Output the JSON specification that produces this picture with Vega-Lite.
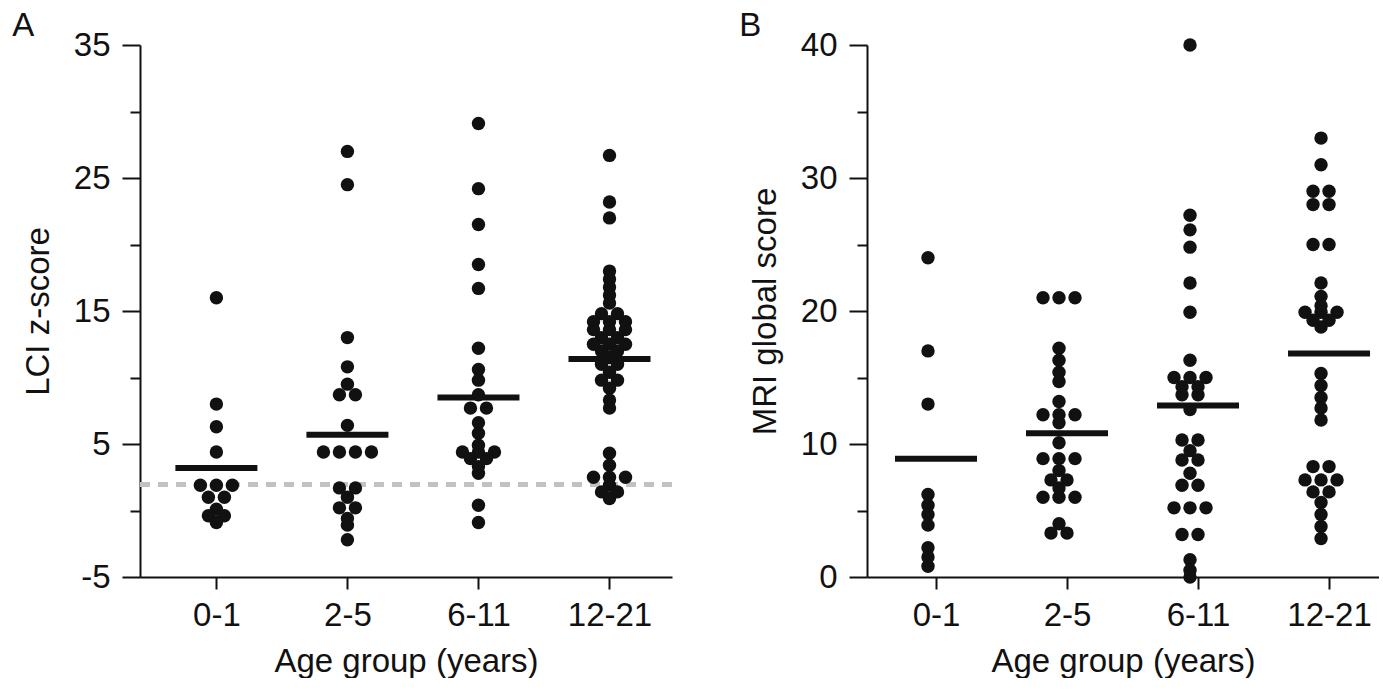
{
  "$schema": "https://vega.github.io/schema/vega-lite/v6.json",
  "background": "white",
  "padding": {"left": 12, "top": 10, "right": 0, "bottom": 0},
  "spacing": 64,
  "config": {
    "view": {"stroke": null},
    "font": "Liberation Sans",
    "axis": {
      "domainColor": "#111", "domainWidth": 2, "tickColor": "#111", "tickWidth": 2,
      "labelFont": "Liberation Sans", "labelFontSize": 33, "labelColor": "#111",
      "titleFont": "Liberation Sans", "titleFontSize": 33, "titleFontWeight": "normal", "titleColor": "#111",
      "grid": false, "labelOverlap": false
    },
    "title": {"font": "Liberation Sans", "fontSize": 33, "fontWeight": "normal", "color": "#111", "anchor": "start", "frame": "bounds", "offset": -14, "dx": -10}
  },
  "datasets": {
    "lci": [
      {"g": "0-1", "v": 16}, {"g": "0-1", "v": 8}, {"g": "0-1", "v": 6.3}, {"g": "0-1", "v": 4.4},
      {"g": "0-1", "v": 1.9}, {"g": "0-1", "v": 1.9}, {"g": "0-1", "v": 1.9}, {"g": "0-1", "v": 1.0}, {"g": "0-1", "v": 1.0},
      {"g": "0-1", "v": 0.1}, {"g": "0-1", "v": -0.4}, {"g": "0-1", "v": -0.4}, {"g": "0-1", "v": -0.9},
      {"g": "2-5", "v": 27.0}, {"g": "2-5", "v": 24.5}, {"g": "2-5", "v": 13.0}, {"g": "2-5", "v": 10.8}, {"g": "2-5", "v": 9.5},
      {"g": "2-5", "v": 8.7}, {"g": "2-5", "v": 8.7}, {"g": "2-5", "v": 6.4},
      {"g": "2-5", "v": 4.4}, {"g": "2-5", "v": 4.4}, {"g": "2-5", "v": 4.4}, {"g": "2-5", "v": 4.4},
      {"g": "2-5", "v": 1.7}, {"g": "2-5", "v": 1.7}, {"g": "2-5", "v": 1.0}, {"g": "2-5", "v": 0.2}, {"g": "2-5", "v": 0.2},
      {"g": "2-5", "v": -0.6}, {"g": "2-5", "v": -1.1}, {"g": "2-5", "v": -2.2},
      {"g": "6-11", "v": 29.1}, {"g": "6-11", "v": 24.2}, {"g": "6-11", "v": 21.5}, {"g": "6-11", "v": 18.5}, {"g": "6-11", "v": 16.7},
      {"g": "6-11", "v": 12.2}, {"g": "6-11", "v": 10.6}, {"g": "6-11", "v": 9.8}, {"g": "6-11", "v": 8.7},
      {"g": "6-11", "v": 7.7}, {"g": "6-11", "v": 7.7}, {"g": "6-11", "v": 6.6}, {"g": "6-11", "v": 5.8}, {"g": "6-11", "v": 4.9},
      {"g": "6-11", "v": 4.4}, {"g": "6-11", "v": 4.4}, {"g": "6-11", "v": 4.4}, {"g": "6-11", "v": 3.9}, {"g": "6-11", "v": 3.9},
      {"g": "6-11", "v": 3.3}, {"g": "6-11", "v": 2.8}, {"g": "6-11", "v": 0.4}, {"g": "6-11", "v": -0.9},
      {"g": "12-21", "v": 26.7}, {"g": "12-21", "v": 23.2}, {"g": "12-21", "v": 22.0}, {"g": "12-21", "v": 18.0}, {"g": "12-21", "v": 17.4},
      {"g": "12-21", "v": 16.8}, {"g": "12-21", "v": 16.2}, {"g": "12-21", "v": 15.6}, {"g": "12-21", "v": 14.8}, {"g": "12-21", "v": 14.8},
      {"g": "12-21", "v": 14.2}, {"g": "12-21", "v": 14.2}, {"g": "12-21", "v": 14.2}, {"g": "12-21", "v": 13.6}, {"g": "12-21", "v": 13.6},
      {"g": "12-21", "v": 13.6}, {"g": "12-21", "v": 13.0}, {"g": "12-21", "v": 13.0}, {"g": "12-21", "v": 12.5}, {"g": "12-21", "v": 12.5},
      {"g": "12-21", "v": 12.5}, {"g": "12-21", "v": 12.0}, {"g": "12-21", "v": 12.0}, {"g": "12-21", "v": 11.5}, {"g": "12-21", "v": 11.0},
      {"g": "12-21", "v": 11.0}, {"g": "12-21", "v": 10.4}, {"g": "12-21", "v": 9.8}, {"g": "12-21", "v": 9.8}, {"g": "12-21", "v": 9.2},
      {"g": "12-21", "v": 8.3}, {"g": "12-21", "v": 7.7}, {"g": "12-21", "v": 4.3}, {"g": "12-21", "v": 3.4}, {"g": "12-21", "v": 2.5},
      {"g": "12-21", "v": 2.5}, {"g": "12-21", "v": 2.5}, {"g": "12-21", "v": 1.9}, {"g": "12-21", "v": 1.4}, {"g": "12-21", "v": 1.4},
      {"g": "12-21", "v": 0.9}
    ],
    "lciMean": [
      {"g": "0-1", "m": 3.2}, {"g": "2-5", "m": 5.7}, {"g": "6-11", "m": 8.5}, {"g": "12-21", "m": 11.4}
    ],
    "mri": [
      {"g": "0-1", "v": 24}, {"g": "0-1", "v": 17}, {"g": "0-1", "v": 13}, {"g": "0-1", "v": 6.2}, {"g": "0-1", "v": 5.4},
      {"g": "0-1", "v": 4.7}, {"g": "0-1", "v": 3.9}, {"g": "0-1", "v": 2.2}, {"g": "0-1", "v": 1.5}, {"g": "0-1", "v": 0.8},
      {"g": "2-5", "v": 21}, {"g": "2-5", "v": 21}, {"g": "2-5", "v": 21}, {"g": "2-5", "v": 17.2}, {"g": "2-5", "v": 16.3},
      {"g": "2-5", "v": 15.4}, {"g": "2-5", "v": 14.7}, {"g": "2-5", "v": 13.2}, {"g": "2-5", "v": 12.2}, {"g": "2-5", "v": 12.2},
      {"g": "2-5", "v": 12.2}, {"g": "2-5", "v": 11.6}, {"g": "2-5", "v": 10.1}, {"g": "2-5", "v": 8.9}, {"g": "2-5", "v": 8.9},
      {"g": "2-5", "v": 8.9}, {"g": "2-5", "v": 8.0}, {"g": "2-5", "v": 7.3}, {"g": "2-5", "v": 7.3}, {"g": "2-5", "v": 6.7},
      {"g": "2-5", "v": 6.0}, {"g": "2-5", "v": 6.0}, {"g": "2-5", "v": 6.0}, {"g": "2-5", "v": 4.0}, {"g": "2-5", "v": 3.3},
      {"g": "2-5", "v": 3.3},
      {"g": "6-11", "v": 40}, {"g": "6-11", "v": 27.2}, {"g": "6-11", "v": 26.1}, {"g": "6-11", "v": 24.8}, {"g": "6-11", "v": 22.1},
      {"g": "6-11", "v": 19.9}, {"g": "6-11", "v": 16.3}, {"g": "6-11", "v": 15.0}, {"g": "6-11", "v": 15.0}, {"g": "6-11", "v": 15.0},
      {"g": "6-11", "v": 14.3}, {"g": "6-11", "v": 14.3}, {"g": "6-11", "v": 13.7}, {"g": "6-11", "v": 13.7}, {"g": "6-11", "v": 12.6},
      {"g": "6-11", "v": 10.3}, {"g": "6-11", "v": 10.3}, {"g": "6-11", "v": 9.5}, {"g": "6-11", "v": 8.8}, {"g": "6-11", "v": 8.8},
      {"g": "6-11", "v": 7.8}, {"g": "6-11", "v": 6.9}, {"g": "6-11", "v": 6.9}, {"g": "6-11", "v": 5.2}, {"g": "6-11", "v": 5.2},
      {"g": "6-11", "v": 5.2}, {"g": "6-11", "v": 3.2}, {"g": "6-11", "v": 3.2}, {"g": "6-11", "v": 1.3}, {"g": "6-11", "v": 0.5},
      {"g": "6-11", "v": 0},
      {"g": "12-21", "v": 33}, {"g": "12-21", "v": 31}, {"g": "12-21", "v": 29}, {"g": "12-21", "v": 29}, {"g": "12-21", "v": 28},
      {"g": "12-21", "v": 28}, {"g": "12-21", "v": 25}, {"g": "12-21", "v": 25}, {"g": "12-21", "v": 22.1}, {"g": "12-21", "v": 21.1},
      {"g": "12-21", "v": 20.4}, {"g": "12-21", "v": 19.9}, {"g": "12-21", "v": 19.9}, {"g": "12-21", "v": 19.9}, {"g": "12-21", "v": 19.3},
      {"g": "12-21", "v": 19.3}, {"g": "12-21", "v": 18.8}, {"g": "12-21", "v": 15.3}, {"g": "12-21", "v": 14.4}, {"g": "12-21", "v": 13.5},
      {"g": "12-21", "v": 12.7}, {"g": "12-21", "v": 11.8}, {"g": "12-21", "v": 8.3}, {"g": "12-21", "v": 8.3}, {"g": "12-21", "v": 7.3},
      {"g": "12-21", "v": 7.3}, {"g": "12-21", "v": 7.3}, {"g": "12-21", "v": 6.4}, {"g": "12-21", "v": 6.4}, {"g": "12-21", "v": 5.6},
      {"g": "12-21", "v": 4.7}, {"g": "12-21", "v": 3.8}, {"g": "12-21", "v": 2.9}
    ],
    "mriMean": [
      {"g": "0-1", "m": 8.9}, {"g": "2-5", "m": 10.8}, {"g": "6-11", "m": 12.9}, {"g": "12-21", "m": 16.8}
    ]
  },
  "hconcat": [
    {
      "width": 532,
      "height": 532,
      "title": {"text": "A"},
      "layer": [
        {
          "data": {"values": [{"ref": 1.96}]},
          "mark": {"type": "rule", "color": "#c2c2c2", "strokeWidth": 5, "strokeDash": [10, 8]},
          "encoding": {"y": {"field": "ref", "type": "quantitative"}}
        },
        {
          "data": {"name": "lci"},
          "transform": [
            {"window": [{"op": "count", "as": "one"}], "frame": [0, 0]},
            {"stack": "one", "groupby": ["g", "v"], "offset": "center", "as": ["s0", "s1"]}
          ],
          "mark": {"type": "circle", "size": 180, "color": "#111", "opacity": 1},
          "encoding": {
            "x": {
              "field": "g", "type": "nominal", "sort": ["0-1", "2-5", "6-11", "12-21"],
              "scale": {"type": "point", "padding": 0.53, "align": 0.55},
              "axis": {"title": "Age group (years)", "labelAngle": 0, "tickSize": 12, "labelPadding": 10, "titlePadding": 13}
            },
            "xOffset": {"field": "s0", "type": "quantitative", "scale": {"domain": [0, 4], "range": [-24, 40]}},
            "y": {
              "field": "v", "type": "quantitative",
              "scale": {"domain": [-5, 35], "nice": false, "zero": false},
              "axis": {
                "title": "LCI z-score",
                "values": [-5, 0, 5, 10, 15, 20, 25, 30, 35],
                "labelExpr": "(datum.value + 5) % 10 == 0 ? '' + datum.value : ''",
                "tickSize": {"condition": {"test": "(datum.value + 5) % 10 == 0", "value": 18}, "value": 10},
                "labelPadding": 12,
                "titlePadding": 18
              }
            }
          }
        },
        {
          "data": {"name": "lciMean"},
          "mark": {"type": "tick", "size": 82, "thickness": 6, "color": "#111", "opacity": 1},
          "encoding": {
            "x": {"field": "g", "type": "nominal", "sort": ["0-1", "2-5", "6-11", "12-21"]},
            "y": {"field": "m", "type": "quantitative"}
          }
        }
      ]
    },
    {
      "width": 512,
      "height": 532,
      "title": {"text": "B"},
      "layer": [
        {
          "data": {"name": "mri"},
          "transform": [
            {"window": [{"op": "count", "as": "one"}], "frame": [0, 0]},
            {"stack": "one", "groupby": ["g", "v"], "offset": "center", "as": ["s0", "s1"]}
          ],
          "mark": {"type": "circle", "size": 180, "color": "#111", "opacity": 1},
          "encoding": {
            "x": {
              "field": "g", "type": "nominal", "sort": ["0-1", "2-5", "6-11", "12-21"],
              "scale": {"type": "point", "padding": 0.454, "align": 0.58},
              "axis": {"title": "Age group (years)", "labelAngle": 0, "tickSize": 12, "labelPadding": 10, "titlePadding": 13}
            },
            "xOffset": {"field": "s0", "type": "quantitative", "scale": {"domain": [0, 4], "range": [-16, 48]}},
            "y": {
              "field": "v", "type": "quantitative",
              "scale": {"domain": [0, 40], "nice": false, "zero": false},
              "axis": {
                "title": "MRI global score",
                "values": [0, 5, 10, 15, 20, 25, 30, 35, 40],
                "labelExpr": "datum.value % 10 == 0 ? '' + datum.value : ''",
                "tickSize": {"condition": {"test": "datum.value % 10 == 0", "value": 18}, "value": 10},
                "labelPadding": 12,
                "titlePadding": 18
              }
            }
          }
        },
        {
          "data": {"name": "mriMean"},
          "mark": {"type": "tick", "size": 82, "thickness": 6, "color": "#111", "opacity": 1},
          "encoding": {
            "x": {"field": "g", "type": "nominal", "sort": ["0-1", "2-5", "6-11", "12-21"]},
            "y": {"field": "m", "type": "quantitative"}
          }
        }
      ]
    }
  ]
}
